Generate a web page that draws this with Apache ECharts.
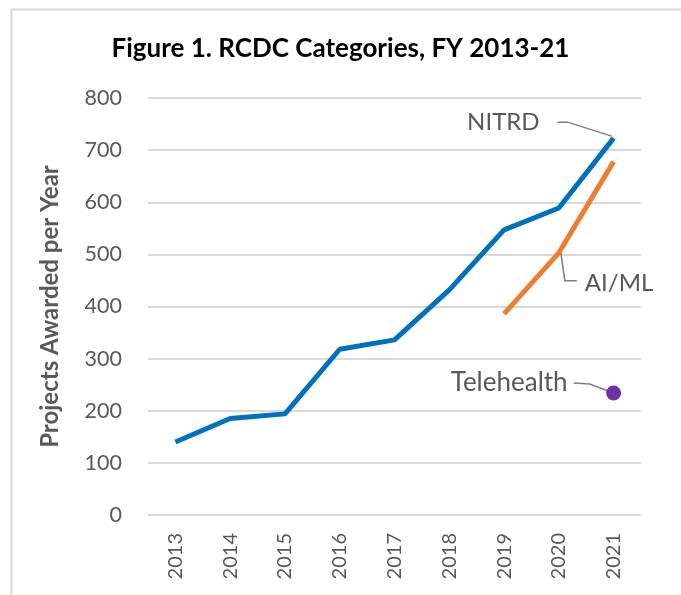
<!DOCTYPE html>
<html>
<head>
<meta charset="utf-8">
<script src="https://cdn.jsdelivr.net/npm/echarts@6/dist/echarts.min.js"></script>
<style>
  html, body { margin: 0; padding: 0; background: #fff; }
  #chart { width: 681px; height: 595px; }
</style>
</head>
<body>
<div id="chart"></div>
<script>
var years = ['2013', '2014', '2015', '2016', '2017', '2018', '2019', '2020', '2021'];
var nitrd = [140, 185, 194, 318, 336, 432, 547, 589, 723];
var aiml = [null, null, null, null, null, null, 386, 503, 678];
var telehealth = [null, null, null, null, null, null, null, null, 234];
var yTicks = [0, 100, 200, 300, 400, 500, 600, 700, 800];

var font = 'Lato, "Open Sans", sans-serif';
var gray = '#595959';

var dom = document.getElementById('chart');
var myChart = echarts.init(dom);

var frame = {
    type: 'rect', left: 9, top: 7, silent: true,
    shape: { width: 720, height: 640 },
    style: { fill: 'none', stroke: '#d9d9d9', lineWidth: 2 }
};

var option = {
    animation: false,
    backgroundColor: '#ffffff',
    title: {
        text: 'Figure 1. RCDC Categories, FY 2013-21',
        left: 'center',
        top: 31,
        textStyle: { fontFamily: font, fontWeight: 'bold', fontSize: 26, color: '#000' }
    },
    grid: { left: 148, right: 40, top: 98, bottom: 80 },
    xAxis: {
        type: 'category',
        data: years,
        boundaryGap: true,
        axisLine: { show: false },
        axisTick: { show: false },
        axisLabel: { rotate: 90, fontFamily: font, fontSize: 20, color: gray, margin: 18 }
    },
    yAxis: {
        type: 'value',
        min: yTicks[0],
        max: yTicks[yTicks.length - 1],
        interval: 100,
        name: 'Projects Awarded per Year',
        nameLocation: 'middle',
        nameGap: 86,
        nameTextStyle: { fontFamily: font, fontWeight: 'bold', fontSize: 24, color: gray },
        axisLabel: { fontFamily: font, fontSize: 21.5, color: gray, margin: 26 },
        splitLine: { lineStyle: { color: '#d9d9d9', width: 2 } }
    },
    series: [
        {
            name: 'NITRD', type: 'line', data: nitrd, symbol: 'none',
            lineStyle: { color: '#0070C0', width: 5 }
        },
        {
            name: 'AI/ML', type: 'line', data: aiml, symbol: 'none',
            lineStyle: { color: '#ED7D31', width: 5 }
        },
        {
            name: 'Telehealth', type: 'line', data: telehealth, symbol: 'circle', symbolSize: 15,
            itemStyle: { color: '#7030A0' }
        }
    ],
    graphic: [frame]
};
myChart.setOption(option);

// leader lines and annotation text placed from the data points
function pt(year, v) { return myChart.convertToPixel({ xAxisIndex: 0, yAxisIndex: 0 }, [year, v]); }
var pN = pt('2021', nitrd[8]);
var pA = pt('2020', aiml[7]);
var pT = pt('2021', telehealth[8]);
var lineStyle = { stroke: '#7f7f7f', lineWidth: 1.5, fill: 'none' };
function textStyle(txt, align, size) {
    return { text: txt, align: align, verticalAlign: 'middle', fontFamily: font, fontSize: size, fill: gray };
}

myChart.setOption({
    graphic: [
        frame,
        { type: 'polyline', z: 10, shape: { points: [[pN[0] - 56, pN[1] - 16], [pN[0] - 46, pN[1] - 16], [pN[0] - 2, pN[1] - 2]] }, style: lineStyle },
        { type: 'text', z: 10, x: pN[0] - 74, y: pN[1] - 16, style: textStyle('NITRD', 'right', 24) },
        { type: 'polyline', z: 10, shape: { points: [[pA[0] + 2, pA[1]], [pA[0] + 6, pA[1] + 28], [pA[0] + 18, pA[1] + 28]] }, style: lineStyle },
        { type: 'text', z: 10, x: pA[0] + 26, y: pA[1] + 30, style: textStyle('AI/ML', 'left', 24) },
        { type: 'polyline', z: 1, shape: { points: [[pT[0] - 40, pT[1] - 10], [pT[0] - 24, pT[1] - 9], [pT[0], pT[1]]] }, style: lineStyle },
        { type: 'text', z: 10, x: pT[0] - 46, y: pT[1] - 10, style: textStyle('Telehealth', 'right', 26) }
    ]
}, { replaceMerge: ['graphic'] });

window.addEventListener('resize', function() { myChart.resize(); });
</script>
</body>
</html>
